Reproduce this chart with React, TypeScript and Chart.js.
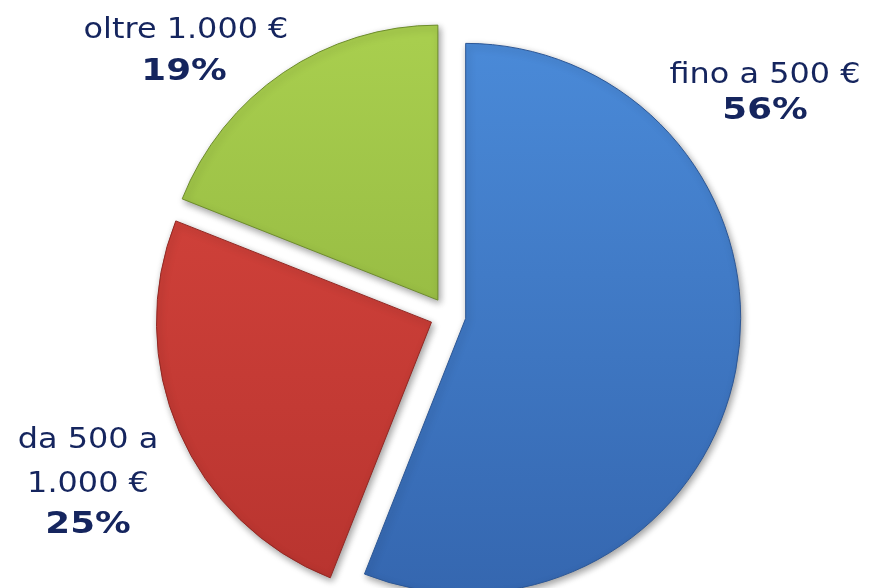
import React, { useEffect, useRef } from "react";
import { Chart, registerables } from "chart.js";

Chart.register(...registerables);

const categories = ["fino a 500 €", "da 500 a 1.000 €", "oltre 1.000 €"];
const values = [56, 25, 19];
const labelLines = [["fino a 500 €"], ["da 500 a", "1.000 €"], ["oltre 1.000 €"]];
const percentLabels = ["56%", "25%", "19%"];
const topColors = ["#4a8ad8", "#d9463e", "#a8ce4e"];
const bottomColors = ["#3567b0", "#b8342f", "#88ab39"];
const edgeColors = ["#2c5796", "#922823", "#6d8c2c"];

const TEXT_COLOR = "#15255e";
const RADIUS = 275;
const EXPLODE = 18;

const explodePlugin = {
  id: "explodeSlices",
  afterDatasetsUpdate(chart: any) {
    const meta = chart.getDatasetMeta(0);
    meta.data.forEach((arc: any) => {
      const mid = (arc.startAngle + arc.endAngle) / 2;
      arc.x += Math.cos(mid) * EXPLODE;
      arc.y += Math.sin(mid) * EXPLODE;
    });
  },
};

const labelPlugin = {
  id: "sliceLabels",
  afterDraw(chart: any) {
    const ctx = chart.ctx as CanvasRenderingContext2D;
    const anchors = [
      { x: 765, y: 83, step: 39 },
      { x: 88, y: 448, step: 44 },
      { x: 186, y: 38, step: 45 },
    ];
    ctx.save();
    ctx.fillStyle = TEXT_COLOR;
    ctx.textAlign = "center";
    ctx.textBaseline = "alphabetic";
    labelLines.forEach((lines, i) => {
      const a = anchors[i];
      let y = a.y;
      lines.forEach((line) => {
        ctx.save();
        ctx.translate(a.x, y);
        ctx.scale(1.1, 1);
        ctx.font = "29px 'DejaVu Sans'";
        ctx.fillText(line, 0, 0);
        ctx.restore();
        y += a.step;
      });
      y -= 3;
      ctx.save();
      ctx.translate(a.x - (i === 2 ? 2 : 0), y);
      ctx.scale(1.15, 1);
      ctx.font = "bold 31px 'DejaVu Sans'";
      ctx.fillText(percentLabels[i], 0, 0);
      ctx.restore();
    });
    ctx.restore();
  },
};

const shadowPlugin = {
  id: "sliceShadow",
  beforeDatasetsDraw(chart: any) {
    const ctx = chart.ctx as CanvasRenderingContext2D;
    ctx.save();
    ctx.shadowColor = "rgba(0,0,0,0.38)";
    ctx.shadowBlur = 7;
    ctx.shadowOffsetX = 2;
    ctx.shadowOffsetY = 3;
  },
  afterDatasetsDraw(chart: any) {
    chart.ctx.restore();
  },
};

export default function App() {
  const ref = useRef<HTMLCanvasElement>(null);
  useEffect(() => {
    if (!ref.current) return;
    const chart = new Chart(ref.current, {
      type: "pie",
      data: {
        labels: categories,
        datasets: [
          {
            data: values,
            clip: false as any,
            borderWidth: 1,
            borderColor: edgeColors,
            backgroundColor: (c: any) => {
              const ch = c.chart;
              const area = ch.chartArea;
              const i = c.dataIndex;
              if (!area) return topColors[i];
              const cy = (area.top + area.bottom) / 2;
              const g = ch.ctx.createLinearGradient(0, cy - RADIUS, 0, cy + RADIUS);
              g.addColorStop(0, topColors[i]);
              g.addColorStop(1, bottomColors[i]);
              return g;
            },
          } as any,
        ],
      },
      options: {
        animation: false,
        responsive: false,
        devicePixelRatio: 1,
        radius: RADIUS,
        layout: { padding: { left: 27, right: 0, top: 42, bottom: 0 } },
        plugins: {
          legend: { display: false },
          tooltip: { enabled: false },
        },
      } as any,
      plugins: [explodePlugin, shadowPlugin, labelPlugin],
    });
    return () => chart.destroy();
  }, []);
  return (
    <div style={{ position: "fixed", left: 0, top: 0, width: 869, height: 588, background: "#fff" }}>
      <canvas ref={ref} width={869} height={588} style={{ width: 869, height: 588, display: "block" }} />
    </div>
  );
}
